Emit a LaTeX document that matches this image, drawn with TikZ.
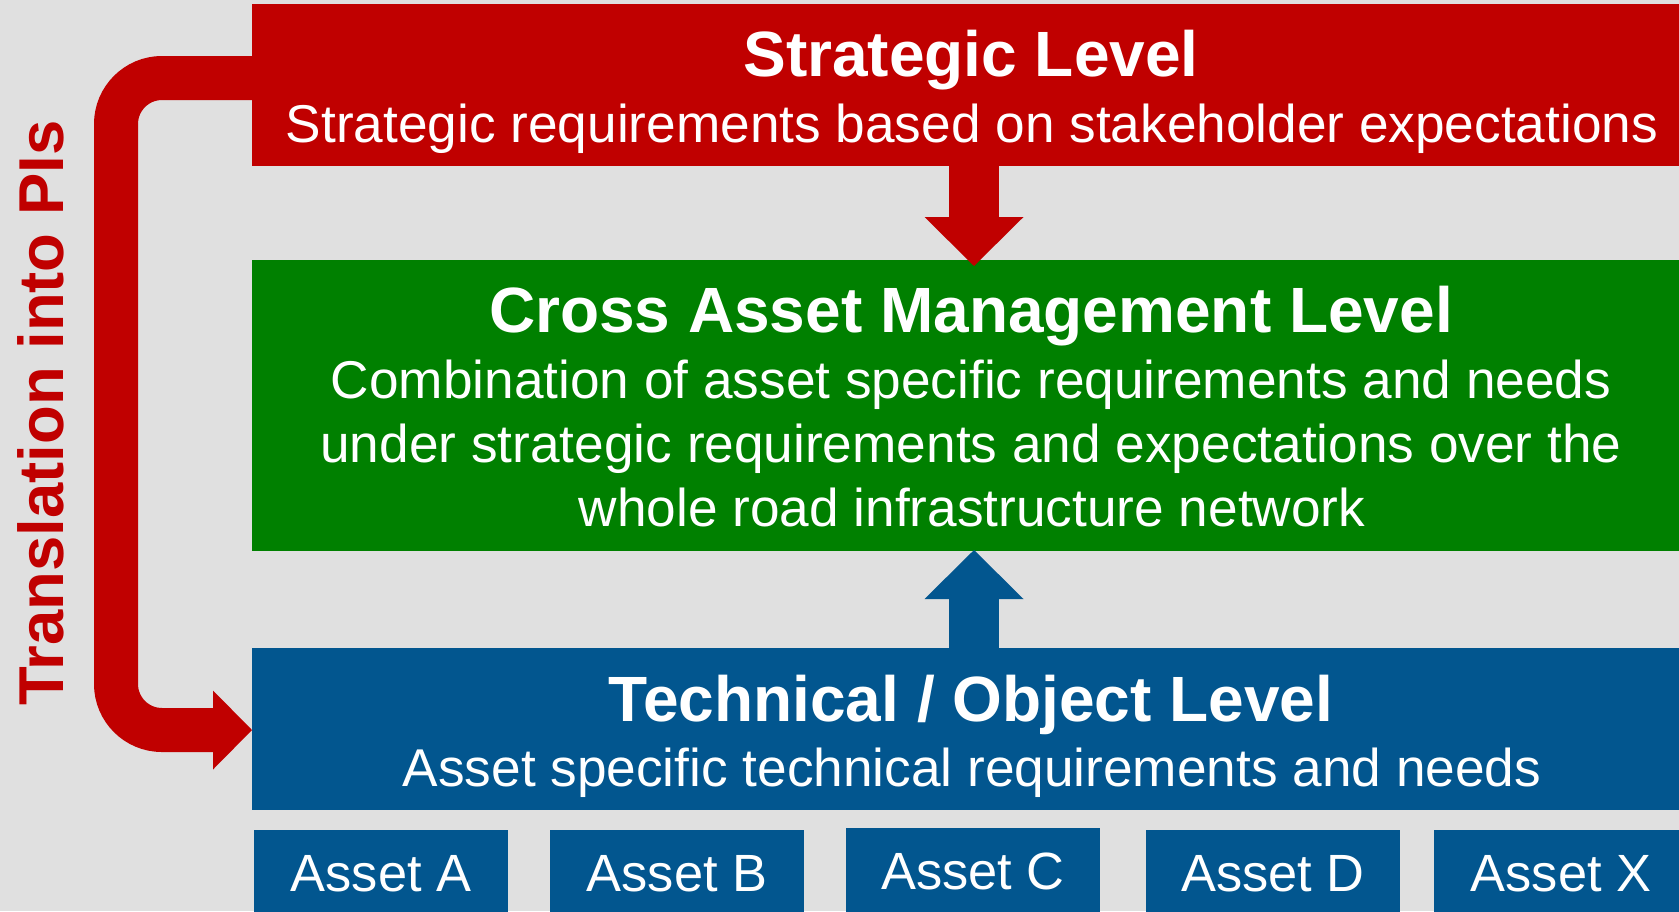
\documentclass[tikz,border=0pt]{standalone}
\usepackage{fontspec}
\setmainfont{Liberation Sans}
\usetikzlibrary{arrows.meta}
\definecolor{lvred}{HTML}{C00000}
\definecolor{lvgreen}{HTML}{008000}
\definecolor{lvblue}{HTML}{02568F}
\definecolor{bggray}{HTML}{E0E0E0}
\begin{document}
\begin{tikzpicture}[x=0.5pt,y=-0.5pt,
  levelbox/.style={rectangle, inner sep=0pt, outer sep=0pt, minimum width=713.5pt},
  assetbox/.style={rectangle, fill=lvblue, inner sep=0pt, outer sep=0pt, minimum width=127pt},
  leveltitle/.style={text=white, font=\fontsize{32pt}{38pt}\selectfont\bfseries, anchor=base, inner sep=0pt},
  leveldesc/.style={text=white, font=\fontsize{26.6pt}{32pt}\selectfont, anchor=base, inner sep=0pt},
  assettext/.style={text=white, font=\fontsize{26.2pt}{31pt}\selectfont, anchor=base, inner sep=0pt},
  blockarrow/.style={line width=25pt, -{Triangle[length=24.5pt, width=49.5pt, line width=0pt]}},
  sidearrow/.style={lvred, line width=22pt, rounded corners=23pt, -{Triangle[length=19.5pt, width=39.5pt, line width=0pt]}},
]
\useasboundingbox[fill=bggray] (0,0) rectangle (1679,911);
\clip (0,0) rectangle (1679,911);

% level boxes
\node[levelbox, fill=lvred, minimum height=81pt] (strat) at (965.5,85) {};
\node[levelbox, fill=lvgreen, minimum height=145.5pt] (cross) at (965.5,405.5) {};
\node[levelbox, fill=lvblue, minimum height=81pt] (tech) at (965.5,729) {};

% asset boxes
\node[assetbox, minimum height=45pt] (assetA) at (381,875) {};
\node[assetbox, minimum height=45pt] (assetB) at (677,875) {};
\node[assetbox, minimum height=46pt] (assetC) at (973,874) {};
\node[assetbox, minimum height=45pt] (assetD) at (1273,875) {};
\node[assetbox, minimum height=45pt] (assetX) at (1561,875) {};

% connectors
\draw[blockarrow, lvred] ([xshift=4.25pt]strat.south) -- ([xshift=4.25pt,yshift=-3pt]cross.north);
\draw[blockarrow, lvblue] ([xshift=4.25pt]tech.north) -- ([xshift=4.25pt,yshift=0.5pt]cross.south);
\draw[sidearrow] ([yshift=3.5pt]strat.west) -| ([xshift=-68pt,yshift=-0.5pt]tech.west) -- ([yshift=-0.5pt]tech.west);

% texts
\node[leveltitle] (strattitle) at (971,76) {Strategic Level};
\node[leveldesc] (stratdesc) at (972,142.5) {Strategic requirements based on stakeholder expectations};
\node[leveltitle] (crosstitle) at (971,332) {Cross Asset Management Level};
\node[leveldesc] (crossdescA) at (971,398) {Combination of asset specific requirements and needs};
\node[leveldesc] (crossdescB) at (971,462) {under strategic requirements and expectations over the};
\node[leveldesc] (crossdescC) at (972,526) {whole road infrastructure network};
\node[leveltitle] (techtitle) at (971,721) {Technical / Object Level};
\node[leveldesc] (techdesc) at (972,786.5) {Asset specific technical requirements and needs};

\node[assettext] (assetAtext) at (381,891) {Asset A};
\node[assettext] (assetBtext) at (677,891) {Asset B};
\node[assettext] (assetCtext) at (973,889) {Asset C};
\node[assettext] (assetDtext) at (1273,891) {Asset D};
\node[assettext] (assetXtext) at (1561,891) {Asset X};

\node[rotate=90, anchor=base, inner sep=0pt, text=lvred, font=\fontsize{31.7pt}{38pt}\selectfont\bfseries] (transl) at (63,413) {Translation into PIs};
\end{tikzpicture}
\end{document}
